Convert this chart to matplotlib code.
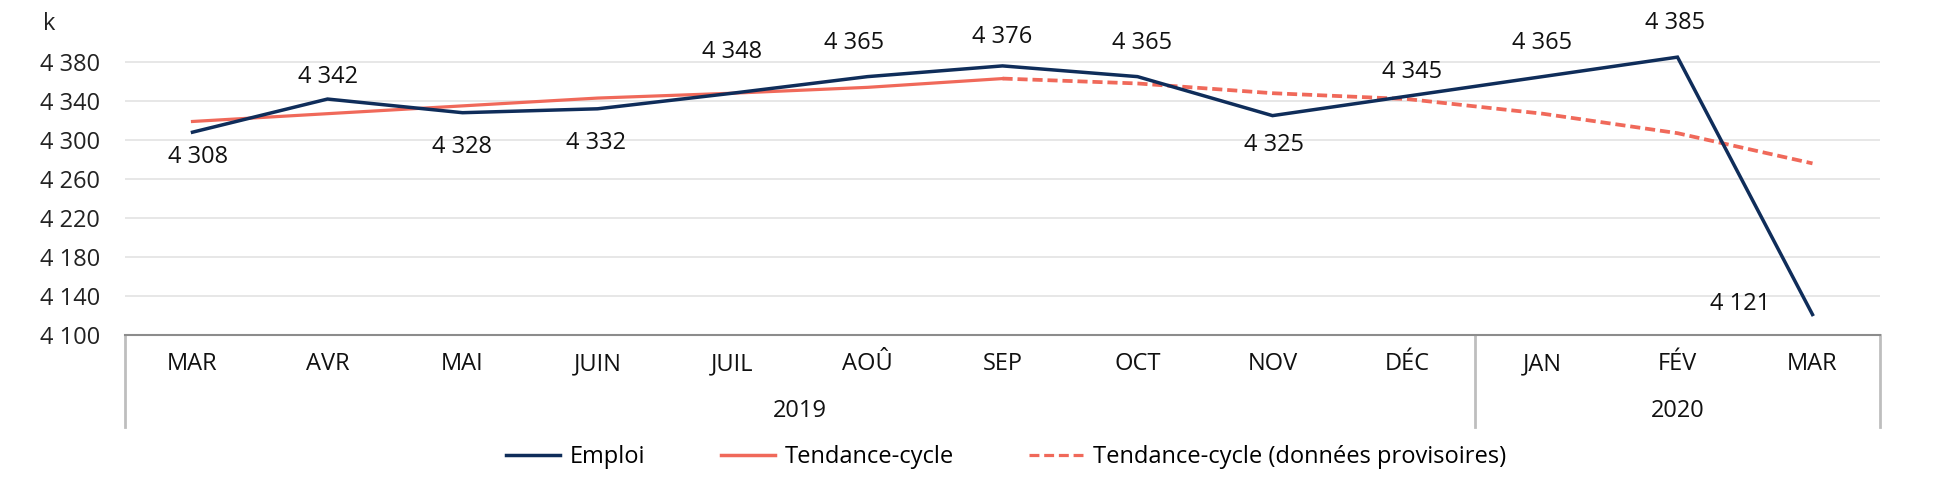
import matplotlib
matplotlib.use("Agg")
import matplotlib.pyplot as plt
from matplotlib.lines import Line2D

plt.rcParams['font.family'] = ['Open Sans', 'DejaVu Sans']

# ---- data ----
months = ["MAR", "AVR", "MAI", "JUIN", "JUIL", "AOÛ", "SEP", "OCT", "NOV", "DÉC", "JAN", "FÉV", "MAR"]
years = ["2019", "2020"]
year_counts = [10, 3]
emploi = [4308, 4342, 4328, 4332, 4348, 4365, 4376, 4365, 4325, 4345, 4365, 4385, 4121]
tendance = [4319, 4327, 4335, 4343, 4348, 4354, 4363]            # MAR 2019 .. SEP 2019
tendance_prov = [4363, 4358, 4348, 4342, 4327, 4307, 4276]       # SEP 2019 .. MAR 2020
yticks = [4100, 4140, 4180, 4220, 4260, 4300, 4340, 4380]
legend_labels = ["Emploi", "Tendance-cycle", "Tendance-cycle (données provisoires)"]

# label offsets (pixels) for the Emploi data labels
label_offsets = [(6, -25), (0, 22), (0, -34), (-2, -34), (0, 41), (-13, 34), (0, 29),
                 (5, 34), (2, -29), (5, 24), (0, 34), (-2, 34), (-72, 11)]

C_EMP = "#0F2D5A"
C_TEND = "#F0695A"
FS = 17

W, H = 1948, 479
fig = plt.figure(figsize=(W / 100, H / 100), dpi=100)
ax = fig.add_axes([125 / W, 1 - 335 / H, (1880 - 125) / W, (335 - 42.5) / H])

x = list(range(len(months)))
ax.set_xlim(-0.5, len(months) - 0.5)
ax.set_ylim(4100, 4400)

ax.plot(x, emploi, color=C_EMP, lw=2.5, solid_joinstyle='miter', zorder=4)
n_t = len(tendance)
ax.plot(x[:n_t], tendance, color=C_TEND, lw=2.3, zorder=3)
ax.plot(x[n_t - 1:], tendance_prov, color=C_TEND, lw=2.7, dashes=(2.7, 1.3), zorder=3)

def fmt(v):
    return f"{v:,}".replace(",", " ")

for xi, v, (dx, dy) in zip(x, emploi, label_offsets):
    ax.annotate(fmt(v), (xi, v), xytext=(dx, dy), textcoords='offset pixels',
                ha='center', va='center', fontsize=FS, color='#111111', zorder=5)

# y axis
ax.set_yticks(yticks)
ax.set_yticklabels([fmt(v) for v in yticks], fontsize=FS, color='#222222')
ax.tick_params(axis='y', length=0, pad=18)
ax.grid(axis='y', color='#E3E3E3', lw=1.2)
ax.set_axisbelow(True)
for s in ['top', 'right', 'left']:
    ax.spines[s].set_visible(False)
ax.spines['bottom'].set_color('#8C8C8C')
ax.spines['bottom'].set_linewidth(1.5)

# category axis (months + years)
ax.set_xticks([])
trans = ax.get_xaxis_transform()
ax_h = 335 - 42.5
y_month = -(364 - 335) / ax_h
y_year = -(411 - 335) / ax_h
y_bot = -(427 - 335) / ax_h
for xi, m in zip(x, months):
    ax.text(xi, y_month, m, transform=trans, ha='center', va='center', fontsize=FS, color='#111111')
start = -0.5
bounds = [start]
for yr, n in zip(years, year_counts):
    ax.text(start + n / 2, y_year, yr, transform=trans, ha='center', va='center', fontsize=FS, color='#111111')
    start += n
    bounds.append(start)
for b in bounds:
    ax.plot([b, b], [0, y_bot], transform=trans, color='#BEBEBE', lw=2, clip_on=False, zorder=1)

fig.text(49 / W, 1 - 24 / H, "k", ha='center', va='center', fontsize=FS, color='#222222')

handles = [Line2D([], [], color=C_EMP, lw=2.5),
           Line2D([], [], color=C_TEND, lw=2.5),
           Line2D([], [], color=C_TEND, lw=2.3, dashes=(3.1, 1.5))]
fig.legend(handles, legend_labels, loc='center', bbox_to_anchor=(1006 / W, 1 - 457 / H), ncol=3,
           frameon=False, fontsize=FS, handlelength=2.3, handletextpad=0.4, columnspacing=3.2)

fig.savefig("out.png", dpi=100)
